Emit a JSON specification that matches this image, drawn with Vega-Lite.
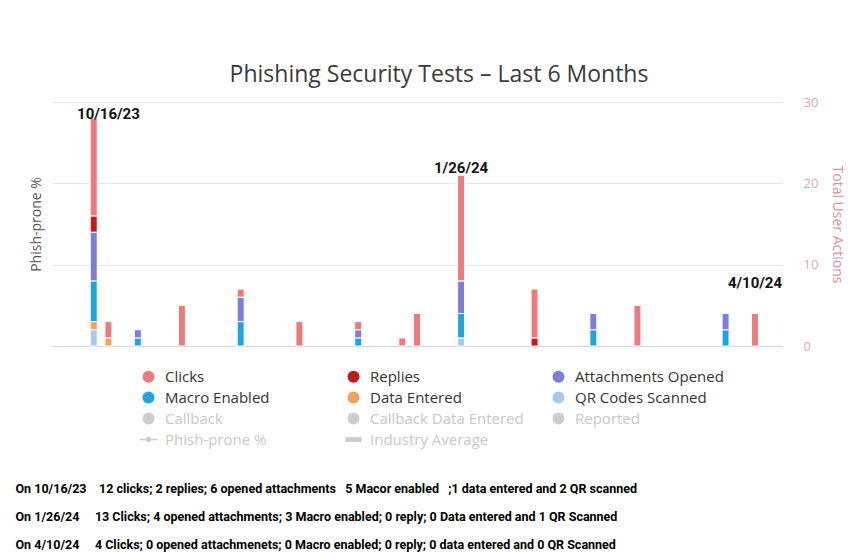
{
  "$schema": "https://vega.github.io/schema/vega-lite/v6.json",
  "width": 730,
  "height": 244,
  "autosize": {"type": "none"},
  "padding": {"left": 52, "top": 102, "right": 69, "bottom": 212},
  "background": "white",
  "title": {
    "text": "Phishing Security Tests – Last 6 Months",
    "font": "Open Sans",
    "fontSize": 23,
    "fontWeight": "normal",
    "color": "#3a3a3a",
    "anchor": "middle",
    "frame": "group",
    "baseline": "alphabetic",
    "offset": 20,
    "dx": 22,
    "dy": 29
  },
  "datasets": {
    "actions": [
      {"date": "2023-10-16", "action": "QR Codes Scanned", "count": 2},
      {"date": "2023-10-16", "action": "Data Entered", "count": 1},
      {"date": "2023-10-16", "action": "Macro Enabled", "count": 5},
      {"date": "2023-10-16", "action": "Attachments Opened", "count": 6},
      {"date": "2023-10-16", "action": "Replies", "count": 2},
      {"date": "2023-10-16", "action": "Clicks", "count": 12},
      {"date": "2023-10-20", "action": "Data Entered", "count": 1},
      {"date": "2023-10-20", "action": "Clicks", "count": 2},
      {"date": "2023-10-28", "action": "Macro Enabled", "count": 1},
      {"date": "2023-10-28", "action": "Attachments Opened", "count": 1},
      {"date": "2023-11-09", "action": "Clicks", "count": 5},
      {"date": "2023-11-25", "action": "Macro Enabled", "count": 3},
      {"date": "2023-11-25", "action": "Attachments Opened", "count": 3},
      {"date": "2023-11-25", "action": "Clicks", "count": 1},
      {"date": "2023-12-11", "action": "Clicks", "count": 3},
      {"date": "2023-12-27", "action": "Macro Enabled", "count": 1},
      {"date": "2023-12-27", "action": "Attachments Opened", "count": 1},
      {"date": "2023-12-27", "action": "Clicks", "count": 1},
      {"date": "2024-01-08", "action": "Clicks", "count": 1},
      {"date": "2024-01-12", "action": "Clicks", "count": 4},
      {"date": "2024-01-24", "action": "QR Codes Scanned", "count": 1},
      {"date": "2024-01-24", "action": "Macro Enabled", "count": 3},
      {"date": "2024-01-24", "action": "Attachments Opened", "count": 4},
      {"date": "2024-01-24", "action": "Clicks", "count": 13},
      {"date": "2024-02-13", "action": "Replies", "count": 1},
      {"date": "2024-02-13", "action": "Clicks", "count": 6},
      {"date": "2024-02-29", "action": "Macro Enabled", "count": 2},
      {"date": "2024-02-29", "action": "Attachments Opened", "count": 2},
      {"date": "2024-03-12", "action": "Clicks", "count": 5},
      {"date": "2024-04-05", "action": "Macro Enabled", "count": 2},
      {"date": "2024-04-05", "action": "Attachments Opened", "count": 2},
      {"date": "2024-04-13", "action": "Clicks", "count": 4}
    ],
    "notes": [
      {"date": "2023-10-20", "label": "10/16/23", "level": 27.9},
      {"date": "2024-01-24", "label": "1/26/24", "level": 21.3},
      {"date": "2024-04-13", "label": "4/10/24", "level": 7.1}
    ]
  },
  "layer": [
    {
      "data": {"name": "actions"},
      "mark": {"type": "bar", "size": 7, "stroke": "white", "strokeWidth": 1},
      "encoding": {
        "x": {
          "field": "date",
          "type": "temporal",
          "scale": {
            "domain": [
              {"year": 2023, "month": 10, "date": 6, "utc": true},
              {"year": 2024, "month": 4, "date": 19, "utc": true}
            ]
          },
          "axis": {
            "labels": false,
            "ticks": false,
            "grid": false,
            "domain": true,
            "domainColor": "#ccd6eb",
            "title": [
              "On 10/16/23\u00a0\u00a0\u00a0 12 clicks; 2 replies; 6 opened attachments\u00a0\u00a0 5 Macor enabled\u00a0\u00a0 ;1 data entered and 2 QR scanned",
              "On 1/26/24\u00a0\u00a0\u00a0\u00a0 13 Clicks; 4 opened attachments; 3 Macro enabled; 0 reply; 0 Data entered and 1 QR Scanned",
              "\u00a0On 4/10/24\u00a0\u00a0\u00a0\u00a0 4 Clicks; 0 opened attachmenets; 0 Macro enabled; 0 reply; 0 data entered and 0 QR Scanned"
            ],
            "titleFont": "Roboto",
            "titleFontSize": 12.5,
            "titleFontWeight": "bold",
            "titleColor": "#000000",
            "titleAnchor": "start",
            "titleAlign": "left",
            "titleBaseline": "top",
            "titleX": -37,
            "titleY": 136,
            "titleLineHeight": 28
          }
        },
        "y": {
          "field": "count",
          "type": "quantitative",
          "stack": "zero",
          "scale": {"domain": [0, 30], "nice": false},
          "axis": {
            "orient": "right",
            "values": [0, 10, 20, 30],
            "ticks": false,
            "domain": false,
            "grid": true,
            "gridColor": "#e6e6e6",
            "labelColor": "#e3a7ab",
            "labelFont": "Open Sans",
            "labelFontSize": 13,
            "labelPadding": 21,
            "title": "Total User Actions",
            "titleColor": "#d4959a",
            "titleFont": "Open Sans",
            "titleFontSize": 14,
            "titleFontWeight": "normal",
            "titlePadding": 12
          }
        },
        "color": {
          "field": "action",
          "type": "nominal",
          "sort": ["Clicks", "Replies", "Attachments Opened", "Macro Enabled", "Data Entered", "QR Codes Scanned", "Callback", "Callback Data Entered", "Reported", "Phish-prone %", "Industry Average"],
          "scale": {
            "domain": ["Clicks", "Replies", "Attachments Opened", "Macro Enabled", "Data Entered", "QR Codes Scanned", "Callback", "Callback Data Entered", "Reported", "Phish-prone %", "Industry Average"],
            "range": ["#ec7a7f", "#c21b1b", "#7e7ed6", "#20a4dd", "#f1a35e", "#a9c9eb", "#cccccc", "#cccccc", "#cccccc", "#cccccc", "#cccccc"]
          },
          "legend": {
            "orient": "none",
            "direction": "horizontal",
            "legendX": 89,
            "legendY": 267,
            "columns": 3,
            "gridAlign": "all",
            "title": null,
            "padding": 0,
            "symbolSize": 144,
            "symbolStrokeWidth": 0,
            "labelFont": "Open Sans",
            "labelFontSize": 15,
            "labelColor": "#333333",
            "labelOffset": 9,
            "labelLimit": 400,
            "columnPadding": 26,
            "rowPadding": 5,
            "encoding": {
              "labels": {
                "fill": {
                  "condition": {"test": "indexof(['Callback','Callback Data Entered','Reported','Phish-prone %','Industry Average'], datum.value) >= 0", "value": "#c8c8c8"},
                  "value": "#333333"
                }
              },
              "symbols": {
                "shape": {
                  "condition": [
                    {"test": "datum.value === 'Phish-prone %'", "value": "M-1.5,-0.12H1.5V0.12H-1.5Z M0.45,0A0.45,0.45 0 1,1 -0.45,0A0.45,0.45 0 1,1 0.45,0Z"},
                    {"test": "datum.value === 'Industry Average'", "value": "M-1.35,-0.4H1.35V0.4H-1.35Z"}
                  ],
                  "value": "circle"
                }
              }
            }
          }
        },
        "order": {"field": "color_action_sort_index", "type": "quantitative", "sort": "descending"}
      }
    },
    {
      "data": {"name": "notes"},
      "mark": {
        "type": "text",
        "font": "Roboto",
        "fontSize": 15,
        "fontWeight": "bold",
        "color": "#111111",
        "align": "center",
        "baseline": "alphabetic"
      },
      "encoding": {
        "x": {"field": "date", "type": "temporal"},
        "y": {
          "field": "level",
          "type": "quantitative",
          "scale": {"domain": [0, 30], "nice": false},
          "axis": {
            "orient": "left",
            "labels": false,
            "ticks": false,
            "domain": false,
            "grid": false,
            "title": "Phish-prone %",
            "titleColor": "#555555",
            "titleFont": "Open Sans",
            "titleFontSize": 14,
            "titleFontWeight": "normal",
            "titlePadding": 9
          }
        },
        "text": {"field": "label"}
      }
    }
  ],
  "resolve": {"scale": {"y": "independent"}},
  "config": {"view": {"stroke": null}, "legend": {"symbolType": "circle"}}
}
